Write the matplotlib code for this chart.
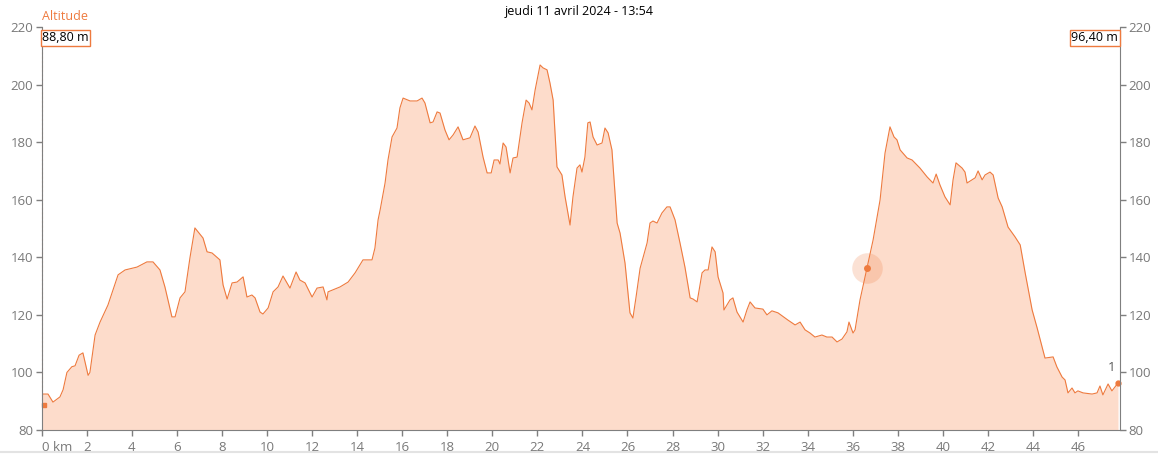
import matplotlib
matplotlib.use('Agg')
import matplotlib.pyplot as plt
from matplotlib.lines import Line2D

# profil altimétrique (km, m)
distance_km = [
    0.00, 0.28, 0.50, 0.81, 0.95, 1.12, 1.34, 1.48, 1.66, 1.83, 2.06, 2.14, 2.37, 2.59,
    2.94, 3.12, 3.39, 3.70, 4.23, 4.67, 4.94, 5.25, 5.47, 5.78, 5.92, 6.14, 6.36, 6.58,
    6.80, 7.16, 7.34, 7.56, 7.91, 8.05, 8.23, 8.45, 8.67, 8.94, 9.11, 9.33, 9.47, 9.69,
    9.82, 10.05, 10.27, 10.49, 10.71, 11.02, 11.29, 11.46, 11.69, 12.00, 12.22, 12.49,
    12.66, 12.71, 13.24, 13.60, 13.91, 14.26, 14.66, 14.79, 14.93, 15.02, 15.24, 15.37,
    15.55, 15.77, 15.90, 16.04, 16.35, 16.66, 16.88, 17.01, 17.24, 17.37, 17.55, 17.68,
    17.90, 18.08, 18.26, 18.48, 18.70, 19.01, 19.23, 19.37, 19.59, 19.77, 19.95, 20.08,
    20.26, 20.34, 20.48, 20.61, 20.79, 20.92, 21.10, 21.32, 21.50, 21.63, 21.76, 21.90,
    22.12, 22.25, 22.43, 22.56, 22.70, 22.87, 23.09, 23.23, 23.45, 23.58, 23.76, 23.89,
    23.98, 24.11, 24.24, 24.34, 24.47, 24.65, 24.87, 25.00, 25.14, 25.31, 25.54, 25.67,
    25.89, 26.11, 26.24, 26.38, 26.56, 26.87, 27.00, 27.13, 27.31, 27.53, 27.75, 27.89,
    28.11, 28.33, 28.55, 28.78, 28.91, 29.09, 29.31, 29.44, 29.58, 29.75, 29.89, 30.02,
    30.24, 30.28, 30.55, 30.68, 30.86, 31.13, 31.30, 31.44, 31.66, 32.01, 32.19, 32.41,
    32.68, 33.12, 33.44, 33.66, 33.88, 34.10, 34.32, 34.63, 34.85, 35.08, 35.30, 35.52,
    35.74, 35.83, 36.01, 36.10, 36.32, 36.63, 36.90, 37.21, 37.43, 37.65, 37.83, 37.96,
    38.10, 38.41, 38.63, 38.98, 39.30, 39.56, 39.70, 39.87, 40.09, 40.32, 40.45, 40.58,
    40.85, 40.98, 41.07, 41.29, 41.43, 41.56, 41.74, 41.87, 42.09, 42.23, 42.45, 42.63,
    42.89, 43.20, 43.43, 43.65, 43.96, 44.18, 44.53, 44.89, 45.06, 45.29, 45.42, 45.55,
    45.73, 45.86, 45.99, 46.22, 46.62, 46.84, 46.97, 47.10, 47.33, 47.50, 47.64, 47.77,
]
altitude_m = [
    92.5, 92.5, 89.7, 91.5, 94.0, 100.0, 102.0, 102.3, 106.0, 106.8, 99.0, 100.0, 113.0, 117.5,
    123.4, 127.6, 133.9, 135.6, 136.6, 138.4, 138.4, 135.6, 129.7, 119.3, 119.3, 125.9, 128.0, 139.8,
    150.2, 146.7, 141.9, 141.5, 139.1, 130.4, 125.5, 131.1, 131.4, 133.2, 126.2, 126.9, 125.9, 121.0,
    120.3, 122.4, 128.0, 129.7, 133.5, 129.3, 134.9, 132.1, 131.1, 126.2, 129.3, 129.7,
    125.2, 128.0, 129.7, 131.4, 134.6, 139.1, 139.1, 143.2, 153.0, 156.4, 165.8, 173.8,
    181.8, 184.9, 191.9, 195.3, 194.3, 194.3, 195.3, 193.6, 186.7, 187.0, 190.5, 190.1,
    184.2, 180.8, 182.5, 185.3, 180.8, 181.5, 185.6, 183.5, 174.8, 169.3, 169.3, 173.8,
    173.8, 172.4, 179.7, 178.3, 169.3, 174.5, 174.8, 186.7, 194.6, 193.6, 191.2, 198.1,
    206.8, 205.8, 205.1, 200.5, 194.6, 171.4, 168.6, 161.0, 151.2, 161.0, 171.0, 172.1,
    169.6, 174.8, 186.7, 187.0, 181.8, 179.0, 179.7, 184.9, 183.2, 177.3, 151.9, 148.4,
    138.0, 120.7, 118.9, 126.2, 136.2, 145.0, 151.9, 152.6, 151.9, 155.4, 157.5, 157.5,
    153.0, 145.0, 136.6, 125.9, 125.5, 124.5, 134.6, 135.6, 135.6, 143.6, 141.9, 133.2,
    127.6, 121.7, 125.2, 125.9, 121.0, 117.5, 121.7, 124.5, 122.4, 122.0, 120.0, 121.4,
    120.7, 118.2, 116.5, 117.5, 114.8, 113.7, 112.3, 113.0, 112.3, 112.3, 110.6, 111.6,
    114.1, 117.5, 113.7, 114.8, 125.2, 136.3, 146.0, 159.9, 176.2, 185.3, 181.8, 180.8,
    177.3, 174.5, 173.8, 171.0, 167.9, 165.8, 168.9, 165.1, 161.0, 158.2, 166.9, 172.8,
    171.0, 169.6, 165.8, 166.9, 167.6, 170.0, 166.9, 168.6, 169.6, 168.6, 160.6, 157.5,
    150.5, 147.1, 144.3, 134.6, 121.7, 115.5, 105.0, 105.4, 101.9, 98.4, 97.4, 92.9,
    94.6, 92.9, 93.6, 92.9, 92.5, 92.9, 95.3, 92.2, 96.0, 93.6, 95.0, 96.4,
]

x_ticks = [0, 2, 4, 6, 8, 10, 12, 14, 16, 18, 20, 22, 24, 26, 28, 30, 32, 34, 36, 38, 40, 42, 44, 46]
x_labels = ["0 km"] + [str(t) for t in x_ticks[1:]]
y_ticks = [80, 100, 120, 140, 160, 180, 200, 220]

start_alt = 88.8
end_alt = 96.4
cursor_km, cursor_alt = 36.63, 136.3
title = "jeudi 11 avril 2024 - 13:54"

LINE = "#EE7A3E"
FILL = "#FDDCCB"
GREY = "#7F7F7F"

plt.rcParams['font.family'] = ['Open Sans', 'DejaVu Sans']

fig = plt.figure(figsize=(11.58, 4.57), dpi=100)
ax = fig.add_axes([0.036, 0.059, 0.9312, 0.882])

ax.fill_between(distance_km, altitude_m, 80, color=FILL, lw=0)
ax.plot(distance_km, altitude_m, color=LINE, lw=0.8)

ax.set_xlim(0, 47.86)
ax.set_ylim(80, 220)
ax.set_xticks(x_ticks)
ax.set_xticklabels(x_labels)
ax.set_yticks(y_ticks)

ax.tick_params(axis='both', colors=GREY, labelsize=9.5, length=4, width=1)
ax.tick_params(axis='y', labelleft=True, labelright=True, left=True, right=True, pad=2)
ax.tick_params(axis='x', pad=4)
for lbl in ax.get_xticklabels() + ax.get_yticklabels():
    lbl.set_color('#787878')
ax.get_xticklabels()[0].set_horizontalalignment('left')
ax.spines['top'].set_visible(False)
for s in ['left', 'right', 'bottom']:
    ax.spines[s].set_color(GREY)

# curseur au départ
ax.plot([0.02, 0.02], [start_alt, 220], color=LINE, lw=0.8, ls=(0, (2, 2)), alpha=0.6, clip_on=False)
ax.plot([0.1], [start_alt], marker='s', ms=3, color=LINE, clip_on=False)
ax.plot([distance_km[-1]], [end_alt], marker='o', ms=3.5, color=LINE, clip_on=False)

# point courant
ax.plot([cursor_km], [cursor_alt], marker='o', ms=22, color=LINE, alpha=0.22, mec='none')
ax.plot([cursor_km], [cursor_alt], marker='o', ms=5, color=LINE, mec='none')

ax.text(47.65, 99.5, "1", color='#555555', fontsize=9.5, ha='right', va='bottom')

box = dict(boxstyle='square,pad=0.12', fc='white', ec=LINE, lw=1)
ax.text(0.02, 218.5, "88,80 m", fontsize=9, color='black', ha='left', va='top', bbox=box)
ax.text(47.78, 218.5, "96,40 m", fontsize=9, color='black', ha='right', va='top', bbox=box)
ax.text(0.0, 221.5, "Altitude", fontsize=9, color=LINE, ha='left', va='bottom')

fig.text(0.5, 0.99, title, fontsize=9, color='black', ha='center', va='top')
fig.add_artist(Line2D([0, 1], [0.012, 0.012], color='#E3E3E3', lw=1.5))

fig.savefig('out.png', dpi=100)
